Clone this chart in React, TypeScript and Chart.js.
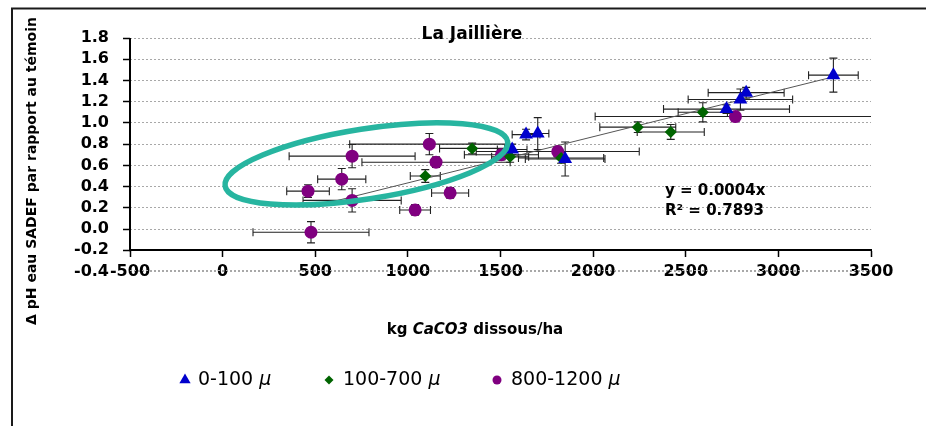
import React, { useEffect, useRef } from 'react';
import { Chart, registerables } from 'chart.js';

Chart.register(...registerables);

// ---------- data ----------
const chartTitle = 'La Jaillière';
const yTitle = 'Δ pH eau SADEF par rapport au témoin';
const seriesLabels = ['0-100 ', '100-700 ', '800-1200 '];
const unitLabel = 'μ';
const equationLines = ['y = 0.0004x', 'R² = 0.7893'];

const xMin = -500;
const xMax = 3500;
const xStep = 500;
const yMin = -0.4;
const yMax = 1.8;
const yStep = 0.2;
const xAxisAt = -0.2;

// 0-100 µ (blue triangles)
const blueX = [1563, 1638, 1701, 1849, 2720, 2795, 2826, 3297];
const blueY = [0.75, 0.89, 0.9, 0.66, 1.13, 1.22, 1.285, 1.45];
const blueXErr = [80, 75, 60, 215, 340, 282, 205, 134];
const blueYErr = [0.05, 0.05, 0.15, 0.16, 0.04, 0.1, 0.05, 0.16];

// 100-700 µ (green diamonds)
const greenX = [1094, 1347, 1552, 1827, 2241, 2419, 2592];
const greenY = [0.5, 0.76, 0.68, 0.67, 0.96, 0.915, 1.1];
const greenXErr = [81, 176, 100, 230, 205, 181, 133];
const greenYErr = [0.06, 0.05, 0.05, 0.05, 0.05, 0.07, 0.09];

// 800-1200 µ (purple circles)
const purpleX = [477, 461, 643, 699, 699, 1039, 1116, 1152, 1228, 1505, 1809, 2768];
const purpleY = [-0.03, 0.357, 0.47, 0.687, 0.27, 0.18, 0.8, 0.63, 0.34, 0.7, 0.73, 1.06];
const purpleXErr = [313, 115, 130, 340, 265, 83, 430, 400, 100, 200, 440, 757];
const purpleYErr = [0.1, 0.06, 0.1, 0.11, 0.11, 0.05, 0.1, 0.05, 0.05, 0.05, 0.05, 0.04];

// trend line end points
const trendX = [520, 3295];
const trendY = [0.226, 1.433];

// highlighted group (ellipse centre, data units)
const ellipseCenterX = 776;
const ellipseCenterY = 0.614;

const FONT = 'DejaVu Sans';
const BLUE = '#0000cd';
const GREEN = '#006400';
const PURPLE = '#800080';
const GRID = '#a8a8a8';

const pts = (xs: number[], ys: number[]) => xs.map((x, i) => ({ x, y: ys[i] }));

const errorBarPlugin = {
  id: 'errorBars',
  beforeDatasetsDraw(chart: any) {
    const { ctx, chartArea } = chart;
    const xs = chart.scales.x;
    const ys = chart.scales.y;
    // bottom (-0.4) grid line, runs behind the x tick labels
    ctx.save();
    ctx.strokeStyle = GRID;
    ctx.lineWidth = 1;
    ctx.setLineDash([2, 2]);
    const gy = Math.floor(ys.getPixelForValue(yMin)) - 0.5;
    ctx.beginPath();
    ctx.moveTo(chartArea.left, gy);
    ctx.lineTo(chartArea.right, gy);
    ctx.stroke();
    ctx.restore();

    ctx.save();
    ctx.beginPath();
    ctx.rect(chartArea.left, 0, chartArea.right - chartArea.left, chart.height);
    ctx.clip();
    ctx.strokeStyle = '#222';
    ctx.lineWidth = 1.1;
    const cap = 4;
    chart.data.datasets.forEach((ds: any) => {
      if (!ds.errX) return;
      ds.data.forEach((p: any, i: number) => {
        const px = xs.getPixelForValue(p.x);
        const py = ys.getPixelForValue(p.y);
        const xl = xs.getPixelForValue(p.x - ds.errX[i]);
        const xr = xs.getPixelForValue(p.x + ds.errX[i]);
        const yt = ys.getPixelForValue(p.y + ds.errY[i]);
        const yb = ys.getPixelForValue(p.y - ds.errY[i]);
        ctx.beginPath();
        ctx.moveTo(xl, py); ctx.lineTo(xr, py);
        ctx.moveTo(xl, py - cap); ctx.lineTo(xl, py + cap);
        ctx.moveTo(xr, py - cap); ctx.lineTo(xr, py + cap);
        ctx.moveTo(px, yt); ctx.lineTo(px, yb);
        ctx.moveTo(px - cap, yt); ctx.lineTo(px + cap, yt);
        ctx.moveTo(px - cap, yb); ctx.lineTo(px + cap, yb);
        ctx.stroke();
      });
    });
    ctx.restore();
  },
};

function drawMarker(ctx: CanvasRenderingContext2D, kind: string, x: number, y: number, r: number, color: string) {
  ctx.fillStyle = color;
  ctx.beginPath();
  if (kind === 'triangle') {
    ctx.moveTo(x, y - r);
    ctx.lineTo(x + r * 0.866, y + r * 0.5);
    ctx.lineTo(x - r * 0.866, y + r * 0.5);
  } else if (kind === 'rectRot') {
    ctx.moveTo(x - r, y); ctx.lineTo(x, y - r); ctx.lineTo(x + r, y); ctx.lineTo(x, y + r);
  } else {
    ctx.arc(x, y, r, 0, Math.PI * 2);
  }
  ctx.closePath();
  ctx.fill();
}

const decorPlugin = {
  id: 'decor',
  afterDatasetsDraw(chart: any) {
    const { ctx } = chart;
    const xs = chart.scales.x;
    const ys = chart.scales.y;
    // highlight ellipse
    ctx.save();
    ctx.strokeStyle = '#27b5a0';
    ctx.lineWidth = 5.5;
    ctx.beginPath();
    ctx.ellipse(xs.getPixelForValue(ellipseCenterX), ys.getPixelForValue(ellipseCenterY), 143, 35, -8.9 * Math.PI / 180, 0, Math.PI * 2);
    ctx.stroke();
    ctx.restore();
  },
  afterDraw(chart: any) {
    const { ctx, chartArea } = chart;
    const ys = chart.scales.y;
    ctx.save();
    // frame
    ctx.strokeStyle = '#1a1a1a';
    ctx.lineWidth = 2;
    ctx.beginPath();
    ctx.moveTo(12, chart.height + 5);
    ctx.lineTo(12, 8.5);
    ctx.lineTo(chart.width + 5, 8.5);
    ctx.stroke();

    // y axis line (stops at the x axis)
    ctx.lineWidth = 2;
    ctx.strokeStyle = '#000';
    ctx.beginPath();
    ctx.moveTo(chartArea.left, chartArea.top);
    ctx.lineTo(chartArea.left, ys.getPixelForValue(xAxisAt) + 1);
    ctx.stroke();

    ctx.fillStyle = '#000';
    // title
    ctx.font = `bold 17px "${FONT}"`;
    ctx.textAlign = 'center';
    ctx.textBaseline = 'middle';
    ctx.fillText(chartTitle, 472, 35);

    // y title
    ctx.save();
    ctx.translate(32, 171);
    ctx.rotate(-Math.PI / 2);
    ctx.font = `bold 14px "${FONT}"`;
    ctx.fillText(yTitle, 0, 0);
    ctx.restore();

    // x title (with italic part)
    const parts = [
      { t: 'kg ', f: `bold 15px "${FONT}"` },
      { t: 'CaCO3', f: `italic bold 15px "${FONT}"` },
      { t: ' dissous/ha', f: `bold 15px "${FONT}"` },
    ];
    let total = 0;
    parts.forEach((p) => { ctx.font = p.f; total += ctx.measureText(p.t).width; });
    let cx = 475 - total / 2;
    ctx.textAlign = 'left';
    parts.forEach((p) => { ctx.font = p.f; ctx.fillText(p.t, cx, 330); cx += ctx.measureText(p.t).width; });

    // equation
    ctx.font = `bold 15px "${FONT}"`;
    ctx.fillText(equationLines[0], 665, 191);
    ctx.fillText(equationLines[1], 665, 211);

    // legend
    const items = [
      { kind: 'triangle', color: BLUE, mx: 185, tx: 198, r: 6.5 },
      { kind: 'rectRot', color: GREEN, mx: 329, tx: 343, r: 4.5 },
      { kind: 'circle', color: PURPLE, mx: 497, tx: 511, r: 4.5 },
    ];
    items.forEach((it, i) => {
      drawMarker(ctx, it.kind, it.mx, 380, it.r, it.color);
      ctx.fillStyle = '#000';
      ctx.font = `19px "${FONT}"`;
      ctx.fillText(seriesLabels[i], it.tx, 380);
      const w = ctx.measureText(seriesLabels[i]).width;
      ctx.font = `italic 19px "${FONT}"`;
      ctx.fillText(unitLabel, it.tx + w, 380);
    });
    ctx.restore();
  },
};

export default function App() {
  const ref = useRef<HTMLCanvasElement>(null);
  useEffect(() => {
    if (!ref.current) return;
    const tickFont = { family: FONT, size: 16, weight: 'bold' as const };
    const chart = new Chart(ref.current, {
      type: 'scatter',
      data: {
        datasets: [
          {
            type: 'line',
            label: 'trend',
            data: pts(trendX, trendY),
            borderColor: '#555',
            borderWidth: 1,
            pointRadius: 0,
            fill: false,
            order: 4,
          } as any,
          {
            label: seriesLabels[0],
            data: pts(blueX, blueY),
            errX: blueXErr,
            errY: blueYErr,
            pointStyle: 'triangle',
            pointRadius: 8,
            backgroundColor: BLUE,
            borderColor: BLUE,
            borderWidth: 0,
            order: 1,
          } as any,
          {
            label: seriesLabels[1],
            data: pts(greenX, greenY),
            errX: greenXErr,
            errY: greenYErr,
            pointStyle: 'rectRot',
            pointRadius: 6,
            backgroundColor: GREEN,
            borderColor: GREEN,
            borderWidth: 0,
            order: 2,
          } as any,
          {
            label: seriesLabels[2],
            data: pts(purpleX, purpleY),
            errX: purpleXErr,
            errY: purpleYErr,
            pointStyle: 'circle',
            pointRadius: 6.5,
            backgroundColor: PURPLE,
            borderColor: PURPLE,
            borderWidth: 0,
            order: 3,
          } as any,
        ],
      },
      options: {
        animation: false,
        responsive: true,
        maintainAspectRatio: false,
        layout: { padding: { left: 0, right: 55, top: 38, bottom: 154.5 } },
        plugins: { legend: { display: false }, tooltip: { enabled: false } },
        scales: {
          x: {
            type: 'linear',
            position: { y: xAxisAt } as any,
            min: xMin,
            max: xMax,
            afterFit: (s: any) => { s.height = 0; },
            ticks: {
              stepSize: xStep,
              font: tickFont,
              color: '#000',
              padding: 6,
              maxRotation: 0,
              autoSkip: false,
              callback: (v: any) => String(v),
            },
            grid: { drawOnChartArea: false, drawTicks: true, tickLength: 6, tickColor: '#000', tickWidth: 1.5 },
            border: { display: true, color: '#000', width: 2 },
          },
          y: {
            type: 'linear',
            min: yMin,
            max: yMax,
            afterFit: (s: any) => { s.width = 130; },
            ticks: {
              stepSize: yStep,
              font: tickFont,
              color: '#000',
              padding: 14,
              autoSkip: false,
              callback: (v: any) => Number(v).toFixed(1),
            },
            grid: {
              color: GRID,
              lineWidth: 1,
              tickLength: 7,
              tickWidth: 1.5,
              tickColor: (c: any) => (c.tick && c.tick.value < -0.3 ? 'rgba(0,0,0,0)' : '#000'),
              tickBorderDash: [],
            },
            border: { display: false, dash: [2, 2] },
          },
        },
      },
      plugins: [errorBarPlugin, decorPlugin],
    });
    return () => chart.destroy();
  }, []);
  return (
    <div style={{ position: 'fixed', left: 0, top: 0, width: 926, height: 426, background: '#fff' }}>
      <canvas ref={ref} />
    </div>
  );
}
